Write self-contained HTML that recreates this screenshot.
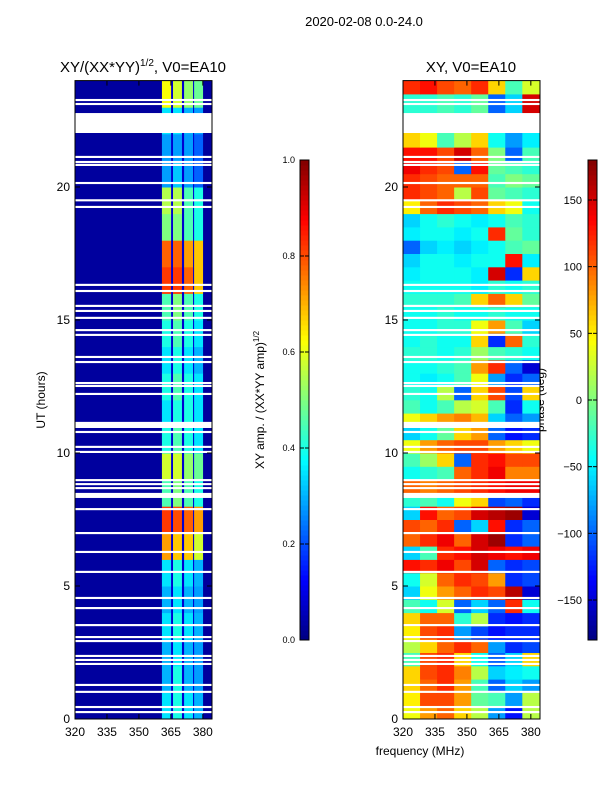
<!DOCTYPE html>
<html><head><meta charset="utf-8"><style>
body{margin:0;background:#fff;}
svg{display:block;font-family:"Liberation Sans","DejaVu Sans",sans-serif;}
</style></head><body>
<svg id="fig" width="600" height="800" viewBox="0 0 600 800" xmlns="http://www.w3.org/2000/svg">
<text x="364" y="26" font-size="13" text-anchor="middle">2020-02-08 0.0-24.0</text>
<text x="143" y="72" font-size="15" text-anchor="middle">XY/(XX*YY)<tspan font-size="10" dy="-6">1/2</tspan><tspan dy="6">, V0=EA10</tspan></text>
<text x="471" y="72" font-size="15" text-anchor="middle">XY, V0=EA10</text>
<text x="45" y="400" font-size="12" text-anchor="middle" transform="rotate(-90 45 400)">UT (hours)</text>
<text x="420" y="755" font-size="12" text-anchor="middle">frequency (MHz)</text>
<text x="264" y="400" font-size="12" text-anchor="middle" transform="rotate(-90 264 400)">XY amp. / (XX*YY amp)<tspan font-size="8" dy="-5">1/2</tspan></text>
<text x="544" y="400" font-size="12" text-anchor="middle" transform="rotate(-90 544 400)">phase (deg)</text>
<g id="g1"></g><g id="g2"></g><g id="cb"></g>
</svg>
<script>
const NS="http://www.w3.org/2000/svg";
// ---- data ----
const hours=[0,1,2,3,4,5,6,7,8,9,10,11,12,13,14,15,16,17,18,19,20,21,22,23];
const ampStripes=[[360.8,365.1],[366.0,370.2],[371.2,375.4],[375.9,380.1]];
const ampBackground=0.03;
const ampValues=[[.35,.4,.35,.3],[.3,.4,.3,.28],[.3,.35,.3,.28],[.35,.4,.35,.3],[.3,.35,.3,.28],[.35,.4,.35,.3],[.72,.68,.68,.58],[.82,.8,.78,.72],[.45,.5,.45,.4],[.58,.58,.52,.48],[.4,.45,.4,.35],[.35,.4,.4,.35],[.4,.45,.4,.35],[.35,.4,.35,.3],[.4,.45,.4,.35],[.45,.5,.45,.4],[.82,.82,.78,.68],[.78,.78,.72,.68],[.5,.5,.45,.4],[.55,.55,.45,.4],[.28,.32,.28,.22],[.28,.28,.28,.22],[.35,.35,.3,.28],[.62,.58,.52,.48]];
const phaseFreqEdges=[320,328,336,344,352,360,368,376,384.3];
// rows of half-hours from 0 upward
const phaseValues=[
[40,80,100,60,20,-80,-130,20],[50,110,110,80,-10,-20,-80,20],[60,100,120,80,-20,-100,-60,-80],[60,110,120,90,20,-60,-50,-40],
[-20,110,120,60,-40,-100,-60,60],[20,60,100,120,100,-80,-120,-110],[50,110,120,-80,-110,-130,-120,-120],[60,100,100,-30,20,-120,-130,-120],
[-20,-40,30,-100,-60,-100,120,-40],[-60,40,80,100,120,110,160,-150],[-40,30,100,120,110,80,-120,-110],[130,120,140,110,150,-100,-120,-110],
[-60,-20,120,130,150,140,130,140],[100,120,140,100,150,170,-120,-100],[110,100,120,-100,-60,130,-120,-100],[-60,130,100,110,150,160,170,-150],
[-30,-20,-40,40,60,-110,-100,-120],[100,90,100,110,120,130,140,140],[-40,-30,-20,100,120,140,90,90],[-20,10,60,-100,120,130,110,110],
[40,80,100,110,110,80,60,40],[-60,-40,-10,60,80,-100,-130,-120],[40,60,80,90,70,-60,-100,-80],[-20,-40,-20,20,30,-20,-120,-40],
[-30,-40,20,-100,60,110,-110,60],[-40,-50,-40,-20,40,-80,-120,-100],[-40,-40,-30,-20,80,120,-100,-150],[-30,-30,-40,-30,10,-20,-30,-40],
[-40,-30,-40,-40,60,-120,100,-30],[-40,-40,-30,-30,40,80,-20,-60],[-40,-40,-30,-40,-40,-30,-40,-40],[-30,-30,-30,-20,60,100,60,-10],
[-40,-40,-40,-40,-50,-30,-40,-30],[-50,-40,-40,-40,-50,150,-120,60],[-60,-40,-40,-50,-40,-40,130,-50],[-100,-60,-50,-60,-50,-40,-20,-10],
[-50,-40,-40,-50,-40,120,-10,-30],[-60,-40,-30,-40,-50,-40,-20,-30],[50,100,120,110,100,60,40,-40],[120,110,100,20,110,-10,-20,-30],
[120,110,100,100,100,-20,0,-10],[140,120,110,-100,130,-10,-20,-30],[130,130,110,150,100,0,-100,-20],[60,40,-20,20,60,-40,-80,-50],
[60,40,-20,20,60,-40,-80,-50],[-30,-30,-20,-30,-10,-100,-60,150],[-30,-30,-20,-30,-10,-100,-60,150],[120,130,110,100,120,60,-20,30]];
const flagStart=[0.22,0.41,0.98,1.24,2.03,2.18,2.33,2.89,3.04,3.49,4.13,4.51,5.49,6.24,6.95,7.85,8.31,8.64,8.79,8.94,10.0,10.19,10.75,10.94,12.18,12.48,12.59,13.38,13.57,14.4,14.58,15.04,15.3,15.49,16.05,16.28,19.21,19.46,20.11,20.79,20.9,21.09,22.03,23.08,23.23];
const flagEnd=[0.3,0.49,1.06,1.32,2.11,2.26,2.41,2.97,3.12,3.57,4.21,4.59,5.57,6.32,7.03,7.93,8.5,8.72,8.87,9.02,10.08,10.27,10.83,11.17,12.26,12.56,12.67,13.46,13.65,14.48,14.66,15.12,15.38,15.57,16.13,16.36,19.29,19.54,20.19,20.87,20.98,21.17,22.78,23.16,23.31];
const ampTicks=[0.0,0.2,0.4,0.6,0.8,1.0];
const phaseTicks=[-150,-100,-50,0,50,100,150];
const freqTicks=[320,335,350,365,380];
const hourTicks=[0,5,10,15,20];
// ---- axes ----
const Y0=719,Y1=80.6,F0=320,F1=384.3;
const yS=h=>Y0-(h/24)*(Y0-Y1);
const xS=(x0,f)=>x0+(f-F0)/(F1-F0)*137;
function jet(v){v=Math.max(0,Math.min(1,v));
 const r=Math.min(Math.max(Math.min(4*v-1.5,-4*v+4.5),0),1);
 const g=Math.min(Math.max(Math.min(4*v-0.5,-4*v+3.5),0),1);
 const b=Math.min(Math.max(Math.min(4*v+0.5,-4*v+2.5),0),1);
 return `rgb(${Math.round(r*255)},${Math.round(g*255)},${Math.round(b*255)})`;}
function rect(g,x,y,w,h,fill,name){const r=document.createElementNS(NS,'rect');
 r.setAttribute('x',x);r.setAttribute('y',y);r.setAttribute('width',w);r.setAttribute('height',h);r.setAttribute('fill',fill);
 
 
 g.appendChild(r);return r;}
function txt(g,x,y,s,anchor,size,name){const t=document.createElementNS(NS,'text');
 t.setAttribute('x',x);t.setAttribute('y',y);t.setAttribute('text-anchor',anchor);t.setAttribute('font-size',size);t.textContent=s;
 
 
 g.appendChild(t);}
function line(g,x1,y1,x2,y2){const l=document.createElementNS(NS,'line');
 l.setAttribute('x1',x1);l.setAttribute('y1',y1);l.setAttribute('x2',x2);l.setAttribute('y2',y2);l.setAttribute('stroke','#000');
 
 
 g.appendChild(l);}
const g1=document.getElementById('g1'),g2=document.getElementById('g2'),cb=document.getElementById('cb');
// amplitude panel
const L1=75;
rect(g1,L1,Y1,137,Y0-Y1,jet(ampBackground),'amp-background');
hours.forEach((h,i)=>{
 rect(g1,xS(L1,ampStripes[0][0]),yS(h+1),xS(L1,ampStripes[3][1])-xS(L1,ampStripes[0][0]),yS(h)-yS(h+1),jet(0.08),'amp-band-bg');
 ampStripes.forEach((s,j)=>{
  rect(g1,xS(L1,s[0]),yS(h+1),xS(L1,s[1])-xS(L1,s[0]),yS(h)-yS(h+1)+0.5,jet(ampValues[i][j]),'amp-cell');
 });
});
// phase panel
const L2=403;
phaseValues.forEach((row,i)=>{
 row.forEach((v,j)=>{
  rect(g2,xS(L2,phaseFreqEdges[j]),yS((i+1)/2),xS(L2,phaseFreqEdges[j+1])-xS(L2,phaseFreqEdges[j])+0.5,yS(i/2)-yS((i+1)/2)+0.5,jet((v+180)/360),'phase-cell');
 });
});
// flags
[[g1,L1],[g2,L2]].forEach(([g,L])=>{
 flagStart.forEach((s,k)=>{rect(g,L,yS(flagEnd[k]),137,yS(s)-yS(flagEnd[k]),'#fff','flagged-row');});
});
// frames, ticks
[[g1,L1],[g2,L2]].forEach(([g,L],p)=>{
 const fr=rect(g,L,Y1,137,Y0-Y1,'none',p?'phase-plot-frame':'amp-plot-frame');fr.setAttribute('stroke','#000');
 hourTicks.forEach(h=>{line(g,L,yS(h),L+5,yS(h));line(g,L+137,yS(h),L+132,yS(h));
  txt(g,L-5,yS(h)+4,String(h),'end',12,'y-tick-label');});
 freqTicks.forEach(f=>{line(g,xS(L,f),Y0,xS(L,f),Y0-5);line(g,xS(L,f),Y1,xS(L,f),Y1+5);
  txt(g,xS(L,f),Y0+17,String(f),'middle',12,'x-tick-label');});
});
// colorbars
const CB0=640,CB1=160;
for(let k=0;k<96;k++){
 const y=CB0-(k+1)*(CB0-CB1)/96;
 rect(cb,300,y,9,(CB0-CB1)/96+0.5,jet((k+0.5)/96),'amp-colorbar-segment');
 rect(cb,588,y,9,(CB0-CB1)/96+0.5,jet((k+0.5)/96),'phase-colorbar-segment');
}
[[300,'amp-colorbar-frame'],[588,'phase-colorbar-frame']].forEach(([x,n])=>{const f=rect(cb,x,CB1,9,CB0-CB1,'none',n);f.setAttribute('stroke','#000');});
ampTicks.forEach(t=>{const y=CB0-t*(CB0-CB1);line(cb,300,y,304,y);line(cb,309,y,305,y);
 txt(cb,295,y+3,t.toFixed(1),'end',9,'amp-colorbar-tick');});
phaseTicks.forEach(t=>{const y=CB0-(t+180)/360*(CB0-CB1);line(cb,588,y,592,y);line(cb,597,y,593,y);
 txt(cb,582,y+4,t<0?'\u2212'+(-t):String(t),'end',11,'phase-colorbar-tick');});
</script>
</body></html>
